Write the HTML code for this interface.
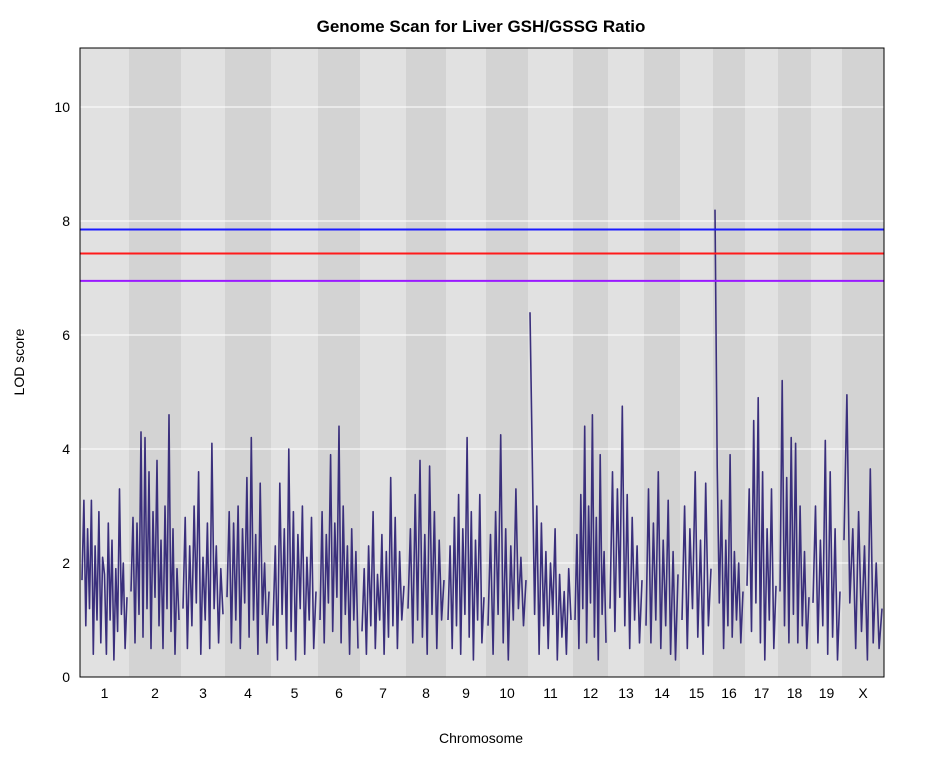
<!DOCTYPE html>
<html><head><meta charset="utf-8"><style>
body{margin:0;background:#fff;font-family:"Liberation Sans",sans-serif}
</style></head><body>
<svg id="chart" width="934" height="756" xmlns="http://www.w3.org/2000/svg" font-family="Liberation Sans, sans-serif">
<text x="481" y="32" text-anchor="middle" font-size="17" font-weight="bold">Genome Scan for Liver GSH/GSSG Ratio</text>
<g id="bands"></g><g id="grid"></g><g id="series"></g><g id="thr"></g><g id="axes"></g>
<rect x="80" y="48" width="804" height="629" fill="none" stroke="#000" stroke-width="1"/>
<text x="481" y="743" text-anchor="middle" font-size="14">Chromosome</text>
<text transform="translate(24,362) rotate(-90)" text-anchor="middle" font-size="14">LOD score</text>
</svg>
<script>
const chromNames=["1","2","3","4","5","6","7","8","9","10","11","12","13","14","15","16","17","18","19","X"];
const chromBounds=[80,129,181,225,271,318,360,406,446,486,528,573,608,644,680,713,745,778,811,842,884];
const yTicks=[0,2,4,6,8,10];
const thresholds=[7.85,7.43,6.95];
const thresholdColors=["#1a1aff","#ff1a1a","#9a1aff"];
const lod=[
[1.7,3.1,0.9,2.6,1.2,3.1,0.4,2.3,1.0,2.9,0.6,2.1,1.8,0.4,2.7,1.0,2.4,0.3,1.9,0.8,3.3,1.1,2.0,0.5,1.4],
[1.5,2.8,0.6,2.7,1.1,4.3,0.7,4.2,1.2,3.6,0.5,2.9,1.4,3.8,0.9,2.4,0.5,3.0,1.2,4.6,0.8,2.6,0.4,1.9,1.0],
[1.2,2.8,0.5,2.3,0.9,3.0,1.3,3.6,0.4,2.1,1.0,2.7,0.5,4.1,1.2,2.3,0.6,1.9,1.1],
[1.4,2.9,0.6,2.7,1.0,3.0,0.5,2.6,1.3,3.5,0.7,4.2,1.0,2.5,0.4,3.4,1.1,2.0,0.6,1.5],
[0.9,2.3,0.3,3.4,1.1,2.6,0.5,4.0,0.8,2.9,0.3,2.5,1.2,3.0,0.4,2.1,1.0,2.8,0.5,1.5],
[1.0,2.9,0.6,2.5,1.3,3.9,0.8,2.7,1.4,4.4,0.6,3.0,1.1,2.3,0.4,2.6,1.0,2.2,0.5],
[0.8,1.9,0.4,2.3,0.9,2.9,0.5,1.8,1.0,2.5,0.4,2.2,0.7,3.5,0.9,2.8,0.5,2.2,1.0,1.6],
[1.2,2.6,0.6,3.2,1.0,3.8,0.7,2.5,0.4,3.7,1.1,2.9,0.5,2.4,1.0,1.7],
[1.0,2.3,0.5,2.8,0.9,3.2,0.4,2.6,1.1,4.2,0.7,2.9,0.3,2.4,1.0,3.2,0.6,1.4],
[0.9,2.5,0.4,2.9,1.1,4.25,0.6,2.6,0.3,2.3,1.0,3.3,1.2,2.1,0.9,1.7],
[6.4,3.8,1.1,3.0,0.4,2.7,0.9,2.2,0.5,2.0,1.1,2.6,0.3,1.8,0.7,1.5,0.4,1.9,1.0],
[1.0,2.5,0.5,3.2,1.2,4.4,0.6,3.0,1.3,4.6,0.7,2.8,0.3,3.9,1.1,2.2,0.6],
[1.2,3.6,0.8,3.3,1.4,4.75,0.9,3.2,0.5,2.8,1.0,2.3,0.6,1.7],
[0.9,3.3,0.6,2.7,1.0,3.6,0.5,2.4,0.9,3.1,0.4,2.2,0.3,1.8],
[1.0,3.0,0.5,2.6,1.2,3.6,0.7,2.4,0.4,3.4,0.9,1.9],
[8.2,3.7,1.3,3.1,0.5,2.4,0.9,3.9,0.7,2.2,1.0,2.0,0.6,1.5],
[1.6,3.3,0.8,4.5,1.3,4.9,0.6,3.6,0.3,2.6,1.0,3.3,0.5,1.6],
[1.5,5.2,0.9,3.5,0.6,4.2,1.1,4.1,0.6,3.0,0.9,2.2,0.5,1.4],
[1.3,3.0,0.6,2.4,0.9,4.15,0.4,3.6,0.7,2.6,0.3,1.5],
[2.4,4.95,1.3,2.6,0.5,2.9,0.8,2.3,0.3,3.65,0.6,2.0,0.5,1.2]
];
const NS="http://www.w3.org/2000/svg";
const plotTop=48,plotBot=677,ymax=(677-48)/57;
const yScale=v=>plotBot-(v/ymax)*(plotBot-plotTop);
function mk(tag,attrs,parent){const e=document.createElementNS(NS,tag);for(const k in attrs)e.setAttribute(k,attrs[k]);parent.appendChild(e);return e;}
const bands=document.getElementById('bands'),grid=document.getElementById('grid'),ser=document.getElementById('series'),thr=document.getElementById('thr'),axes=document.getElementById('axes');
chromNames.forEach((c,i)=>{
 const x0=chromBounds[i],x1=chromBounds[i+1];
 const r=mk('rect',{x:x0,y:plotTop,width:x1-x0,height:plotBot-plotTop,fill:i%2?'#d3d3d3':'#e1e1e1'},bands);
 
 
 const t=mk('text',{x:(x0+x1)/2,y:698,'text-anchor':'middle','font-size':14},axes);t.textContent=c;
 
 
});
yTicks.forEach(v=>{
 if(v>0){const l=mk('line',{x1:80,x2:884,y1:yScale(v),y2:yScale(v),stroke:'#fff','stroke-width':1},grid);
 
 }
 const t=mk('text',{x:70,y:yScale(v)+5,'text-anchor':'end','font-size':14},axes);t.textContent=v;
 
 
});
lod.forEach((arr,i)=>{
 const x0=chromBounds[i]+2,x1=chromBounds[i+1]-2,n=arr.length;
 const pts=arr.map((v,j)=>(x0+(x1-x0)*j/(n-1)).toFixed(1)+','+yScale(v).toFixed(1)).join(' ');
 const p=mk('polyline',{points:pts,fill:'none',stroke:'#3a2f7c','stroke-width':1.6,'stroke-linejoin':'round'},ser);
 
 
});
thresholds.forEach((v,i)=>{
 const l=mk('line',{x1:80,x2:884,y1:yScale(v),y2:yScale(v),stroke:thresholdColors[i],'stroke-width':2},thr);
 
 
});
</script>
</body></html>
